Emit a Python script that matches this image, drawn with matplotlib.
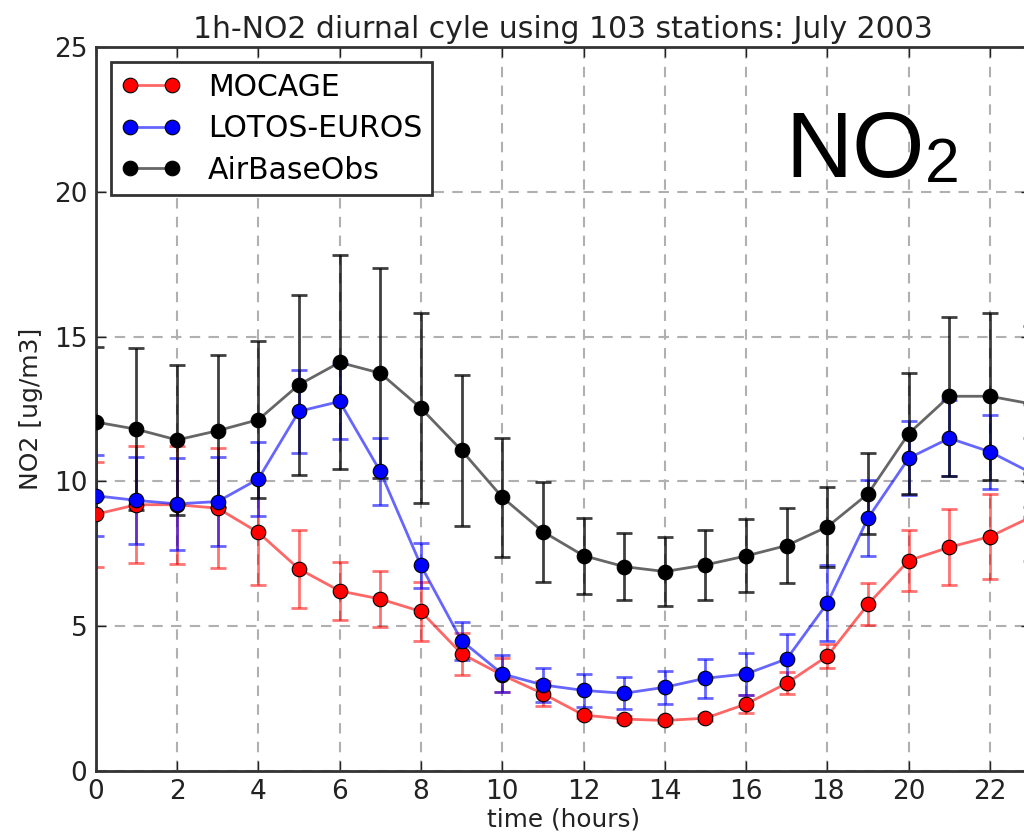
import matplotlib
matplotlib.use("Agg")
import matplotlib.pyplot as plt
import numpy as np

# hourly values
hours = list(range(24))

mocage = [8.86, 9.19, 9.19, 9.07, 8.23, 6.97, 6.21, 5.93, 5.50, 4.04, 3.30, 2.66,
          1.92, 1.78, 1.73, 1.81, 2.30, 3.02, 3.96, 5.75, 7.26, 7.72, 8.09, 8.76]
mocage_err = [1.82, 2.03, 2.04, 2.07, 1.82, 1.35, 1.00, 0.97, 1.02, 0.73, 0.60, 0.42,
              0.12, 0.10, 0.10, 0.10, 0.31, 0.37, 0.43, 0.73, 1.07, 1.31, 1.48, 1.50]

lotos = [9.50, 9.34, 9.22, 9.30, 10.08, 12.42, 12.76, 10.34, 7.09, 4.49, 3.34, 2.96,
         2.77, 2.67, 2.88, 3.19, 3.34, 3.86, 5.79, 8.73, 10.80, 11.49, 11.02, 10.30]
lotos_err = [1.40, 1.50, 1.60, 1.53, 1.27, 1.43, 1.30, 1.15, 0.79, 0.66, 0.64, 0.58,
             0.57, 0.55, 0.57, 0.68, 0.74, 0.87, 1.30, 1.32, 1.28, 1.32, 1.27, 1.20]

obs = [12.05, 11.80, 11.43, 11.75, 12.13, 13.34, 14.11, 13.74, 12.53, 11.07, 9.45, 8.26,
       7.43, 7.05, 6.88, 7.11, 7.42, 7.78, 8.43, 9.57, 11.65, 12.94, 12.94, 12.68]
obs_err = [2.60, 2.80, 2.60, 2.63, 2.71, 3.11, 3.70, 3.64, 3.29, 2.60, 2.05, 1.73,
           1.31, 1.17, 1.20, 1.20, 1.26, 1.30, 1.38, 1.40, 2.10, 2.75, 2.88, 2.70]

series = [
    ("MOCAGE", mocage, mocage_err, (1.0, 0.0, 0.0), 0.55),
    ("LOTOS-EUROS", lotos, lotos_err, (0.0, 0.0, 1.0), 0.6),
    ("AirBaseObs", obs, obs_err, (0.0, 0.0, 0.0), 0.75),
]

fig = plt.figure(figsize=(10.24, 8.34), dpi=100)
# axes (0..23 h) run a little past the right edge, like the cropped original
ax = fig.add_axes([0.0935, 0.0761, 0.913, 0.867])

for name, vals, err, col, a in series:
    ax.errorbar(hours, vals, yerr=err, fmt='none', ecolor=col + (a,),
                elinewidth=2.0, capsize=6, capthick=2.0, zorder=2)
    ax.plot(hours, vals, color=col + (0.6,), lw=2.0, marker='o', markersize=10.5,
            markerfacecolor=col, markeredgecolor='black', markeredgewidth=0.8,
            label=name, zorder=3)

ax.set_xlim(0, 23)
ax.set_ylim(0, 25)
ax.set_xticks(np.arange(0, 23, 2))
ax.set_yticks(np.arange(0, 26, 5))
ax.tick_params(direction='in', top=True, right=True, length=7, width=1,
               labelsize=19, colors='#222222', pad=6)
ax.grid(True, color='#b0b0b0', linestyle=(0, (5, 4)), linewidth=1.5)
ax.set_axisbelow(True)
for s in ax.spines.values():
    s.set_linewidth(2)
    s.set_color('#333333')

ax.set_title("1h-NO2 diurnal cyle using 103 stations: July 2003", fontsize=21.5,
             color='#222222', pad=7)
ax.set_xlabel("time (hours)", fontsize=17.8, color='#222222', labelpad=2)
ax.set_ylabel("NO2 [ug/m3]", fontsize=18, color='#222222', labelpad=8)

leg = ax.legend(loc='upper left', numpoints=2, fontsize=21.5, fancybox=False,
                framealpha=1, edgecolor='#333333', borderpad=0.35,
                labelspacing=0.42, handlelength=2.0, handletextpad=0.9,
                borderaxespad=0.5)
leg.get_frame().set_linewidth(2)

# big NO2 label, subscript drawn as its own text
fig.text(0.7666, 0.7878, "NO", fontsize=67, family="Liberation Sans",
         va='baseline', ha='left', color='black')
fig.text(0.9033, 0.7822, "2", fontsize=45, family="Liberation Sans",
         va='baseline', ha='left', color='black')

fig.savefig("out.png", dpi=100)
